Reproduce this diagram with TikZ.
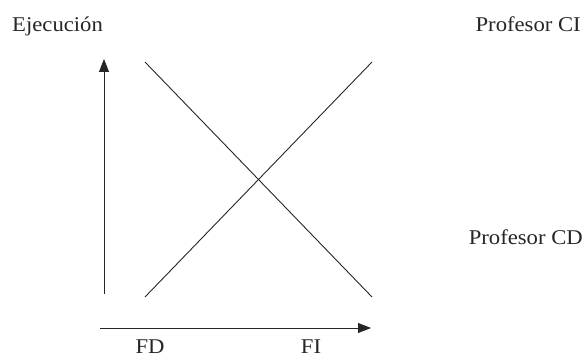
\documentclass[tikz,border=0pt]{standalone}
\usepackage{fontspec}
\setmainfont[FakeStretch=1.08]{Liberation Serif}
\usetikzlibrary{arrows.meta}
\begin{document}
\begin{tikzpicture}[x=1pt,y=-1pt,
  lbl/.style={inner sep=0pt,font=\fontsize{21}{24}\selectfont,text=black!85},
  ln/.style={line width=0.9pt,black!85},
  ax/.style={ln,-{Triangle[length=13pt,width=10pt]}}]
\useasboundingbox (0,0) rectangle (584,358);
\node[lbl,anchor=base west] (ej) at (12,32) {Ejecución};
\node[lbl,anchor=base east] (ci) at (581,32) {Profesor CI};
\node[lbl,anchor=base east] (cd) at (583,245) {Profesor CD};
\node[lbl,anchor=base] (fd) at (150,353) {FD};
\node[lbl,anchor=base] (fi) at (311,353) {FI};
\coordinate (v0) at (104,294);
\coordinate (v1) at (104,59);
\coordinate (h0) at (100,328);
\coordinate (h1) at (371,328);
\coordinate (a0) at (145,62);
\coordinate (a1) at (372,297);
\coordinate (b0) at (145,297);
\coordinate (b1) at (372,62);
\draw[ax] (v0) -- (v1);
\draw[ax] (h0) -- (h1);
\draw[ln] (a0) -- (a1);
\draw[ln] (b0) -- (b1);
\end{tikzpicture}
\end{document}
